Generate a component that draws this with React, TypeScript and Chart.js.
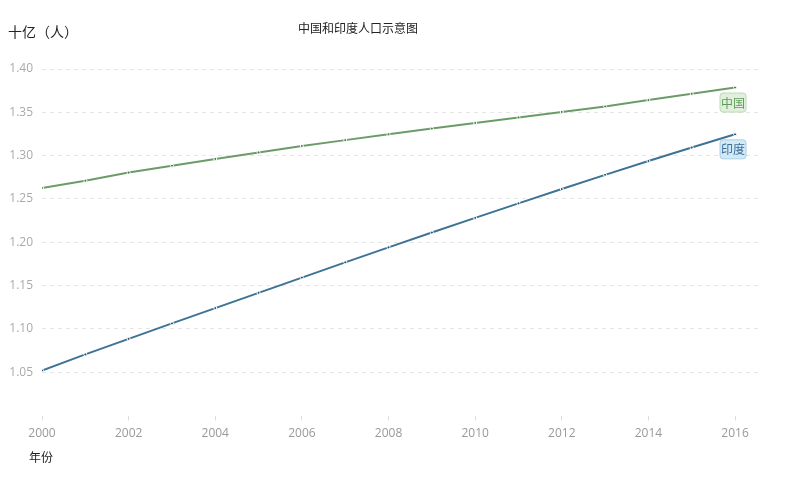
import React, { useEffect, useRef } from "react";
import { Chart, registerables } from "chart.js";

Chart.register(...registerables);

const years = [2000, 2001, 2002, 2003, 2004, 2005, 2006, 2007, 2008, 2009, 2010, 2011, 2012, 2013, 2014, 2015, 2016];
const chinaValues = [1.2626, 1.271, 1.2804, 1.2884, 1.2962, 1.3037, 1.3112, 1.3179, 1.3246, 1.3312, 1.3377, 1.3441, 1.3504, 1.3568, 1.3641, 1.3714, 1.3786];
const indiaValues = [1.052, 1.0705, 1.0885, 1.1063, 1.124, 1.1416, 1.1592, 1.1768, 1.1941, 1.2112, 1.2281, 1.2449, 1.2614, 1.2778, 1.2938, 1.3094, 1.3246];
const xTickValues = [2000, 2002, 2004, 2006, 2008, 2010, 2012, 2014, 2016];
const seriesNames = ["中国", "印度"];
const titleText = "中国和印度人口示意图";
const yTitle = "十亿（人）";
const xTitle = "年份";

const CJK = '"Noto Sans CJK SC", "Noto Sans", sans-serif';
const TICK_FONT = '"Open Sans", "Noto Sans", sans-serif';

const chinaColor = "#6b9c68";
const indiaColor = "#3e7394";

const overlayPlugin = {
  id: "overlay",
  afterDraw(chart: any) {
    const ctx = chart.ctx;
    ctx.save();
    ctx.fillStyle = "#222";
    ctx.textBaseline = "middle";
    ctx.font = `14px ${CJK}`;
    ctx.textAlign = "left";
    ctx.fillText(yTitle, 8, 32);
    ctx.font = `12px ${CJK}`;
    ctx.textAlign = "center";
    ctx.fillText(titleText, 358, 28);
    ctx.font = `12px ${CJK}`;
    ctx.textAlign = "left";
    ctx.fillText(xTitle, 29, 457);

    const boxes = [
      { ds: 0, bg: "#e1f0dd", border: "#bcd9b6", text: "#5f9a58" },
      { ds: 1, bg: "#d3e9f6", border: "#a9cfe6", text: "#3a6f97" },
    ];
    boxes.forEach((b) => {
      const meta = chart.getDatasetMeta(b.ds);
      const pt = meta.data[meta.data.length - 1];
      const cx = pt.x - 2;
      const cy = pt.y + 15;
      const w = 26;
      const h = 19;
      ctx.fillStyle = b.bg;
      ctx.strokeStyle = b.border;
      ctx.lineWidth = 1;
      ctx.beginPath();
      ctx.roundRect(cx - w / 2, cy - h / 2, w, h, 3);
      ctx.fill();
      ctx.stroke();
      ctx.fillStyle = b.text;
      ctx.font = `12px ${CJK}`;
      ctx.textAlign = "center";
      ctx.fillText(seriesNames[b.ds], cx, cy + 0.5);
    });
    ctx.restore();
  },
};

export default function App() {
  const ref = useRef<HTMLCanvasElement | null>(null);
  useEffect(() => {
    document.body.style.margin = "0";
    if (!ref.current) return;
    const mk = (vals: number[]) => years.map((y, i) => ({ x: y, y: vals[i] }));
    const chart = new Chart(ref.current, {
      type: "line",
      data: {
        datasets: [
          {
            label: seriesNames[0],
            data: mk(chinaValues),
            borderColor: chinaColor,
            backgroundColor: chinaColor,
            borderWidth: 2,
            pointRadius: 1.5,
            pointBorderWidth: 1,
            pointBorderColor: "#ffffff",
            pointBackgroundColor: "#4d7a4b",
            tension: 0,
          },
          {
            label: seriesNames[1],
            data: mk(indiaValues),
            borderColor: indiaColor,
            backgroundColor: indiaColor,
            borderWidth: 2,
            pointRadius: 1.5,
            pointBorderWidth: 1,
            pointBorderColor: "#ffffff",
            pointBackgroundColor: "#2a5570",
            tension: 0,
          },
        ],
      },
      options: {
        animation: false,
        responsive: false,
        layout: { padding: { top: 69, right: 46, left: 0, bottom: 0 } },
        plugins: { legend: { display: false }, tooltip: { enabled: false }, title: { display: false } },
        scales: {
          x: {
            type: "linear",
            min: 2000,
            max: 2016.53,
            border: { display: false },
            grid: { drawOnChartArea: false, color: "#dddddd", tickLength: 5 },
            afterFit: (s: any) => {
              s.height = 78.5;
            },
            afterBuildTicks: (s: any) => {
              s.ticks = xTickValues.map((v) => ({ value: v }));
            },
            ticks: {
              color: "#999999",
              font: { size: 12, family: TICK_FONT },
              padding: 6,
              callback: (v: any) => String(v),
            },
          },
          y: {
            min: 1.0,
            max: 1.4,
            border: { display: false, dash: [4, 4] },
            afterFit: (s: any) => {
              s.width = 42;
            },
            grid: {
              color: (c: any) => (c.tick && c.tick.value <= 1.0001 ? "rgba(0,0,0,0)" : "#e6e6e6"),
              drawTicks: false,
            },
            ticks: {
              stepSize: 0.05,
              color: "#aaaaaa",
              font: { size: 12, family: TICK_FONT },
              padding: 9,
              callback: (v: any) => (Number(v) <= 1.0001 ? "" : Number(v).toFixed(2)),
            },
          },
        },
      },
      plugins: [overlayPlugin],
    } as any);
    return () => chart.destroy();
  }, []);
  return <canvas ref={ref} width={804} height={494} style={{ display: "block" }} />;
}
